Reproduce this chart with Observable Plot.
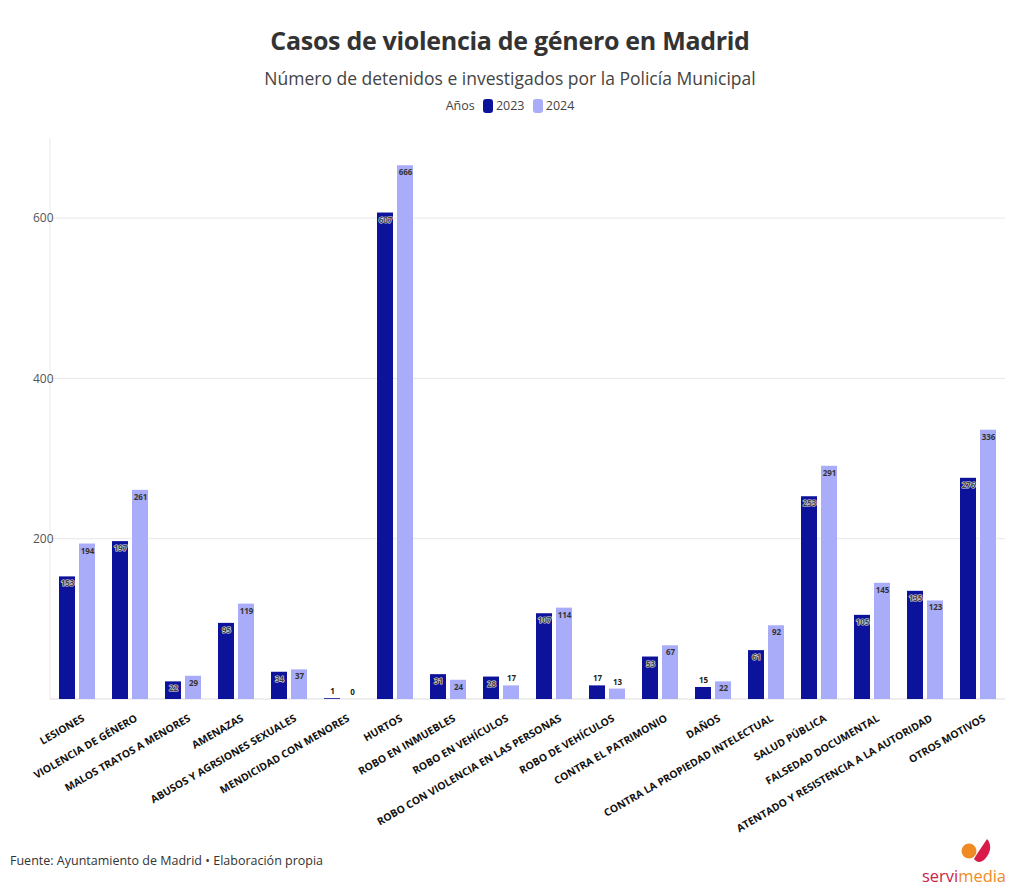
<!DOCTYPE html>
<html><head><meta charset="utf-8">
<script src="https://cdn.jsdelivr.net/npm/d3@7"></script>
<script src="https://cdn.jsdelivr.net/npm/@observablehq/plot@0.6"></script>
<style>
body{margin:0;background:#fff;font-family:"Open Sans",sans-serif;color:#333;}
#wrap{position:relative;width:1020px;height:896px;overflow:hidden;}
#title{position:absolute;top:23px;left:0;width:1020px;text-align:center;font-size:25px;font-weight:700;color:#333;letter-spacing:-0.3px;}
#subtitle{position:absolute;top:66px;left:0;width:1020px;text-align:center;font-size:17.5px;color:#444;}
#legend{position:absolute;top:97px;left:0;width:1020px;text-align:center;font-size:12.5px;color:#444;}
#legend span.sw{display:inline-block;width:10px;height:14px;border-radius:3px;vertical-align:-3px;margin:0 3px 0 5px;}
#chart{position:absolute;top:130px;left:0;}
#caption{position:absolute;top:852px;left:10px;font-size:12.5px;color:#333;}
#logo{position:absolute;top:836px;left:918px;}
</style></head>
<body>
<div id="wrap">
  <div id="chart"></div>
  <div id="title">Casos de violencia de género en Madrid</div>
  <div id="subtitle">Número de detenidos e investigados por la Policía Municipal</div>
  <div id="legend"></div>
  <div id="caption">Fuente: Ayuntamiento de Madrid • Elaboración propia</div>
  <div id="logo">
    <svg width="100" height="56">
      <circle cx="51" cy="15" r="7.5" fill="#f08a24"/>
      <path d="M56 23 C60 16 65 9 69 3 C74 8 73 17 67 23 C63 27 59 27 56 23 Z" fill="#d81b48"/>
      <text x="4" y="46" font-family="Open Sans" font-size="17" textLength="84" lengthAdjust="spacingAndGlyphs" fill="#c8234a">servi<tspan fill="#f08a24">media</tspan></text>
    </svg>
  </div>
</div>
<script>
const categories = ["LESIONES","VIOLENCIA DE GÉNERO","MALOS TRATOS A MENORES","AMENAZAS","ABUSOS Y AGRSIONES SEXUALES","MENDICIDAD CON MENORES","HURTOS","ROBO EN INMUEBLES","ROBO EN VEHÍCULOS","ROBO CON VIOLENCIA EN LAS PERSONAS","ROBO DE VEHÍCULOS","CONTRA EL PATRIMONIO","DAÑOS","CONTRA LA PROPIEDAD INTELECTUAL","SALUD PÚBLICA","FALSEDAD DOCUMENTAL","ATENTADO Y RESISTENCIA A LA AUTORIDAD","OTROS MOTIVOS"];
const years = ["2023","2024"];
const values2023 = [153,197,22,95,34,1,607,31,28,107,17,53,15,61,253,105,135,276];
const values2024 = [194,261,29,119,37,0,666,24,17,114,13,67,22,92,291,145,123,336];
const yTicks = [200,400,600];
const colors = ["#0d129a","#a9acf8"];

const data = categories.flatMap((c,i)=>[
  {cat:c, year:"2023", value:values2023[i]},
  {cat:c, year:"2024", value:values2024[i]}
]);

const leg = document.getElementById("legend");
leg.innerHTML = "Años " + years.map((y,i)=>`<span class="sw" style="background:${colors[i]}"></span>${y}`).join(" ");

const chart = Plot.plot({
  width:1020, height:715,
  marginLeft:50, marginRight:15, marginTop:8, marginBottom:146,
  style:{fontFamily:"Open Sans", fontSize:"12px", color:"#333", background:"transparent"},
  fx:{domain:categories, paddingInner:0.32, paddingOuter:0.16, label:null},
  x:{domain:years, paddingInner:0.2, paddingOuter:0, axis:null},
  y:{domain:[0,700], label:null},
  color:{domain:years, range:colors},
  marks:[
    Plot.axisY({ticks:yTicks, tickSize:0, tickPadding:6, label:null, fill:"#555", fontSize:12, anchor:"left"}),
    Plot.axisFx({anchor:"bottom", tickRotate:-30, tickSize:0, tickPadding:8, dy:10, dx:6, label:null, fontWeight:"bold", fontSize:10.4, fill:"#111"}),
    Plot.barY(data, {fx:"cat", x:"year", y:"value", fill:"year"}),
    Plot.text(data.filter(d=>d.value>=20 && d.year==="2023"), {fx:"cat", x:"year", y:"value", text:d=>String(d.value), dy:7, fontSize:8, fontWeight:"bold", fill:"#444", stroke:"#ddd", strokeWidth:1.2}),
    Plot.text(data.filter(d=>d.value>=20 && d.year==="2024"), {fx:"cat", x:"year", y:"value", text:d=>String(d.value), dy:7, fontSize:8, fontWeight:"bold", fill:"#333"}),
    Plot.text(data.filter(d=>d.value<20), {fx:"cat", x:"year", y:"value", text:d=>String(d.value), dy:-7, fontSize:8, fontWeight:"bold", fill:"#222"})
  ]
});
document.getElementById("chart").appendChild(chart);

// continuous gridlines across facets, using the plot's y scale
const ys = chart.scale("y");
const svg = d3.select(chart);
const g = svg.insert("g", ":first-child").attr("class","grid");
g.selectAll("line.h").data([0, ...yTicks]).join("line")
  .attr("x1",50).attr("x2",1005)
  .attr("y1",d=>ys.apply(d)).attr("y2",d=>ys.apply(d))
  .attr("stroke",d=>d===0?"#ddd":"#e8e8e8").attr("stroke-width",1);
g.append("line").attr("x1",50).attr("x2",50)
  .attr("y1",ys.apply(700)).attr("y2",ys.apply(0))
  .attr("stroke","#e8e8e8");
</script>
</body></html>
